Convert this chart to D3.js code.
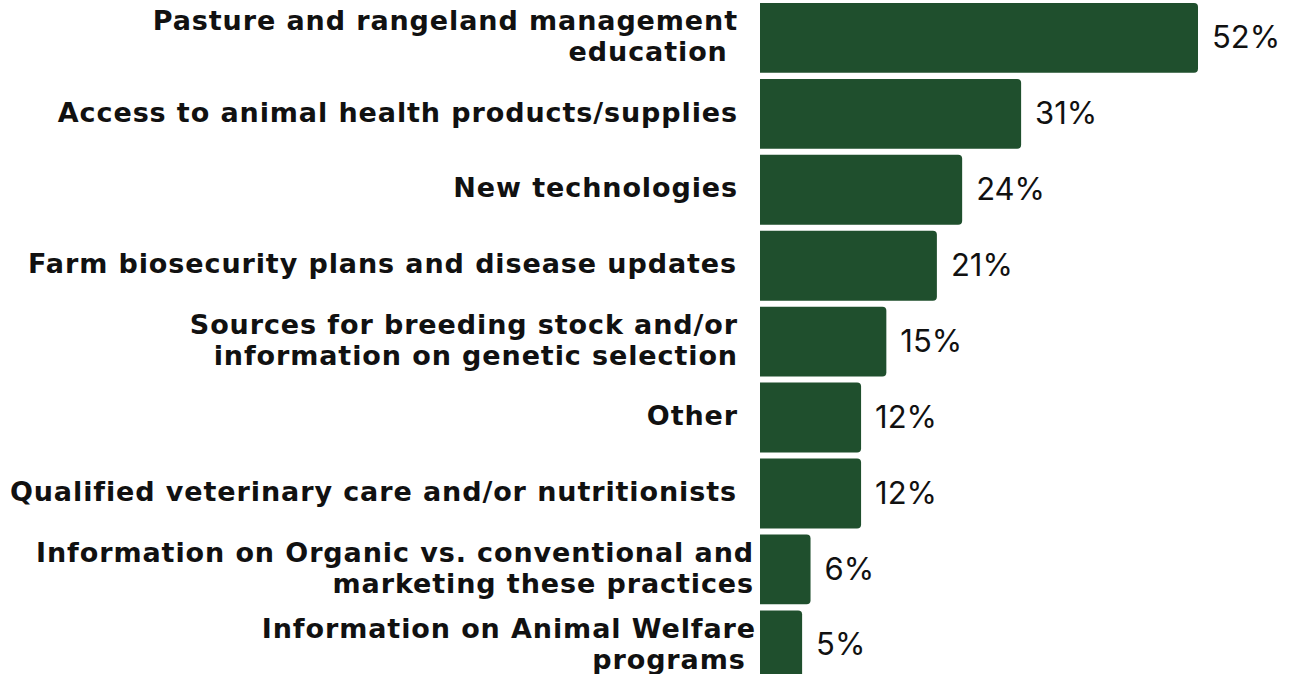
<!DOCTYPE html>
<html>
<head>
<meta charset="utf-8">
<script src="https://cdn.jsdelivr.net/npm/d3@7"></script>
<style>
  html, body { margin: 0; padding: 0; background: #ffffff; }
  svg { display: block; }
  .cat tspan { white-space: pre; }
</style>
</head>
<body>
<svg id="chart" width="1295" height="674"></svg>
<script>
// Share of respondents requesting each resource (percent)
const categories = [
  ["Pasture and rangeland management", "education "],
  ["Access to animal health products/supplies"],
  ["New technologies"],
  ["Farm biosecurity plans and disease updates"],
  ["Sources for breeding stock and/or", "information on genetic selection"],
  ["Other"],
  ["Qualified veterinary care and/or nutritionists"],
  ["Information on Organic vs. conventional and", "marketing these practices"],
  ["Information on Animal Welfare", "programs "]
];
const values = [52, 31, 24, 21, 15, 12, 12, 6, 5];
const valueLabels = ["52%", "31%", "24%", "21%", "15%", "12%", "12%", "6%", "5%"];

const width = 1295, height = 674;
const barLeft = 760, barMax = 1198;
const labelRight = [738, 738, 738, 737, 738, 738, 737, 754, 756];
const barColor = "#1f4f2d";
const radius = 4;

const svg = d3.select("#chart");

const x = d3.scaleLinear().domain([0, 52]).range([barLeft, barMax]);
const y = d3.scaleBand()
  .domain(d3.range(values.length))
  .range([3, 3 + 75.25 * values.length])
  .paddingInner(0.08)
  .paddingOuter(0);

// bars: square left edge, rounded right end
function barPath(x0, x1, y0, h) {
  const r = Math.min(radius, (x1 - x0) / 2, h / 2);
  return `M${x0},${y0}H${x1 - r}Q${x1},${y0} ${x1},${y0 + r}V${y0 + h - r}Q${x1},${y0 + h} ${x1 - r},${y0 + h}H${x0}Z`;
}

svg.append("g").selectAll("path")
  .data(values)
  .join("path")
  .attr("d", (d, i) => barPath(x(0), x(d), y(i), y.bandwidth()))
  .attr("fill", barColor);

// value labels
svg.append("g").selectAll("text")
  .data(values)
  .join("text")
  .attr("x", d => x(d) + 14)
  .attr("y", (d, i) => y(i) + y.bandwidth() / 2 - 1)
  .attr("dy", "0.36em")
  .attr("font-family", "Inter, 'Open Sans', sans-serif")
  .attr("font-size", 31)
  .attr("font-weight", 400)
  .attr("fill", "#111111")
  .text((d, i) => valueLabels[i]);

// category labels, right aligned beside the bars
const lineH = 31;
const catG = svg.append("g")
  .attr("class", "cat")
  .attr("font-family", "'DejaVu Sans', sans-serif")
  .attr("font-size", 27)
  .attr("font-weight", 700)
  .attr("letter-spacing", "0.9px")
  .attr("fill", "#111111")
  .attr("text-anchor", "end");

categories.forEach((lines, i) => {
  const cy = y(i) + y.bandwidth() / 2 - 2;
  const y0 = cy - (lines.length - 1) * lineH / 2;
  const t = catG.append("text");
  lines.forEach((ln, k) => {
    t.append("tspan")
      .attr("x", labelRight[i])
      .attr("y", y0 + k * lineH)
      .attr("dy", "0.36em")
      .text(ln);
  });
});
</script>
</body>
</html>
